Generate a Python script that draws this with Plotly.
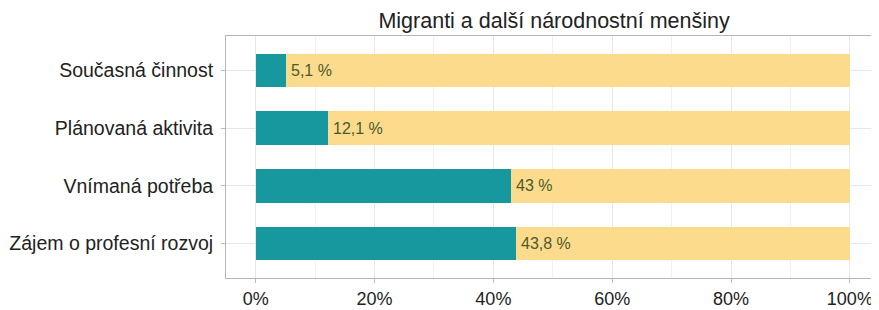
import plotly.graph_objects as go

categories = ["Současná činnost", "Plánovaná aktivita", "Vnímaná potřeba", "Zájem o profesní rozvoj"]
values = [5.1, 12.1, 43.0, 43.8]
value_labels = ["5,1 %", "12,1 %", "43 %", "43,8 %"]
tick_vals = [0, 20, 40, 60, 80, 100]
tick_text = ["0%", "20%", "40%", "60%", "80%", "100%"]
title_text = "Migranti a další národnostní menšiny"

rest = [100 - v for v in values]

FONT = "Liberation Sans, Arial, sans-serif"
TEAL = "#17989f"
YELLOW = "#fddb8c"

fig = go.Figure()
fig.add_trace(go.Bar(
    y=categories, x=values, orientation="h", marker=dict(color=TEAL, line=dict(width=0)),
    width=0.58, hoverinfo="skip", showlegend=False,
))
fig.add_trace(go.Bar(
    y=categories, x=rest, orientation="h", marker=dict(color=YELLOW, line=dict(width=0)),
    width=0.58, hoverinfo="skip", showlegend=False,
))
for cat, v, lab in zip(categories, values, value_labels):
    fig.add_annotation(x=v, y=cat, text=lab, xanchor="left", yanchor="middle",
                       xshift=3, showarrow=False,
                       font=dict(family=FONT, size=16, color="#4a5a2c"))

# page body has an 8px margin; size the figure so the plot area lands where the reference has it
fig.update_layout(
    barmode="stack",
    width=871, height=302,
    margin=dict(l=218, r=3, t=28, b=32),
    paper_bgcolor="white", plot_bgcolor="white",
    title=dict(text=title_text, x=0.627, xanchor="center", y=0.96, yanchor="middle",
               font=dict(family=FONT, size=21.5, color="#222222")),
    font=dict(family=FONT, color="#222222"),
)
fig.update_xaxes(
    range=[-5, 104.4], tickvals=tick_vals, ticktext=tick_text, automargin=False,
    showgrid=True, gridcolor="#e6e6e6", gridwidth=1,
    minor=dict(dtick=10, tick0=0, showgrid=True, gridcolor="#f0f0f0", gridwidth=1),
    ticks="outside", ticklen=4, tickcolor="#bbbbbb",
    showline=True, linecolor="#b5b5b5", linewidth=1, mirror=True,
    tickfont=dict(family=FONT, size=18, color="#222222"), zeroline=False,
)
fig.update_yaxes(
    categoryorder="array", categoryarray=categories, range=[3.6, -0.6], automargin=False,
    showgrid=True, gridcolor="#e6e6e6", gridwidth=1,
    ticks="outside", ticklen=4, tickcolor="#bbbbbb", ticklabelstandoff=4,
    showline=True, linecolor="#b5b5b5", linewidth=1, mirror=True,
    tickfont=dict(family=FONT, size=19.5, color="#222222"),
)

fig.write_html("out.html")
